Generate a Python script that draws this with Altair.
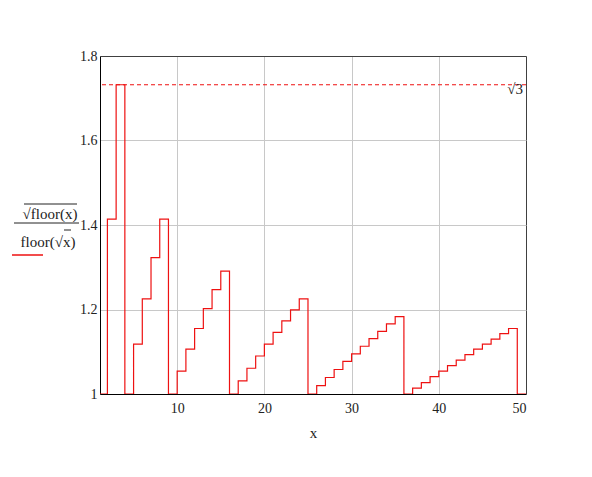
import altair as alt
import pandas as pd

# step positions (integer x) and the value held until the next integer
x_steps = list(range(1, 51))
y_steps = [1.000, 1.414, 1.732, 1.000, 1.118, 1.225, 1.323, 1.414, 1.000, 1.054,
           1.106, 1.155, 1.202, 1.247, 1.291, 1.000, 1.031, 1.061, 1.090, 1.118,
           1.146, 1.173, 1.199, 1.225, 1.000, 1.020, 1.039, 1.058, 1.077, 1.095,
           1.113, 1.131, 1.148, 1.166, 1.183, 1.000, 1.014, 1.027, 1.041, 1.054,
           1.067, 1.080, 1.093, 1.106, 1.118, 1.130, 1.143, 1.155, 1.000, 1.000]
sqrt3 = 1.732
x_ticks = [10, 20, 30, 40, 50]
y_ticks = [1.0, 1.2, 1.4, 1.6, 1.8]

RED = "#ee1111"
FONT = "Liberation Serif"

df = pd.DataFrame({"x": x_steps, "y": y_steps})

xscale = alt.Scale(domain=[1.15, 50], nice=False, zero=False)
yscale = alt.Scale(domain=[1.0, 1.8], nice=False, zero=False)

frame = "#404040"
grid = "#c8c8c8"

line = alt.Chart(df).mark_line(interpolate="step-after", color=RED, strokeWidth=1.2, clip=True).encode(
    x=alt.X("x:Q", scale=xscale, title="x",
            axis=alt.Axis(values=x_ticks, grid=True,
                          gridColor={"condition": {"test": "datum.value >= 50", "value": frame}, "value": grid},
                          domainColor="#000", tickSize=0, labelPadding=7,
                          labelFont=FONT, labelFontSize=14, labelColor="#222",
                          titleFont=FONT, titleFontSize=15, titleFontWeight="normal",
                          titleColor="#222", titlePadding=10)),
    y=alt.Y("y:Q", scale=yscale, title=None,
            axis=alt.Axis(values=y_ticks, grid=True,
                          gridColor={"condition": {"test": "datum.value >= 1.8", "value": frame}, "value": grid},
                          domainColor="#000", tickSize=0, labelPadding=3,
                          labelExpr="datum.value == 1 ? '1' : format(datum.value, '.1f')",
                          labelFont=FONT, labelFontSize=14, labelColor="#222")),
)

ref = alt.Chart(pd.DataFrame({"v": [sqrt3]})).mark_rule(color=RED, strokeDash=[4, 3], strokeWidth=1.2).encode(
    y=alt.Y("v:Q", scale=yscale)
)

ref_label = alt.Chart(pd.DataFrame({"x": [50], "v": [sqrt3], "t": ["√3"]})).mark_text(
    align="right", baseline="middle", dx=-3, dy=4, font=FONT, fontSize=15, color="#222"
).encode(x=alt.X("x:Q", scale=xscale), y=alt.Y("v:Q", scale=yscale), text="t:N")

lab = pd.DataFrame({"t": ["√floor(x)", "floor(√x)"],
                    "px": [-50, -52], "py": [158, 186]})
title_text = alt.Chart(lab).mark_text(font=FONT, fontSize=15, color="#222", baseline="middle", align="center").encode(
    x=alt.X("px:Q", scale=None), y=alt.Y("py:Q", scale=None), text="t:N"
)

bars = pd.DataFrame({"x1": [-86, -76, -36], "x2": [-21, -23, -29], "yy": [167, 148, 174]})
fraction = alt.Chart(bars).mark_rule(strokeWidth=1, color="#222").encode(
    x=alt.X("x1:Q", scale=None), x2="x2:Q", y=alt.Y("yy:Q", scale=None)
)

swatch = alt.Chart(pd.DataFrame({"x1": [-88], "x2": [-57], "yy": [199]})).mark_rule(
    strokeWidth=1.5, color=RED).encode(
    x=alt.X("x1:Q", scale=None), x2="x2:Q", y=alt.Y("yy:Q", scale=None)
)

chart = alt.layer(line, ref, ref_label, title_text, fraction, swatch).properties(
    width=426, height=338,
    autosize=alt.AutoSizeParams(type="none"),
    padding={"left": 92, "top": 48, "right": 58, "bottom": 75},
).configure_view(stroke=frame, strokeWidth=1).configure(background="white")

chart.save("out.html", embed_options={"renderer": "svg", "actions": False})
